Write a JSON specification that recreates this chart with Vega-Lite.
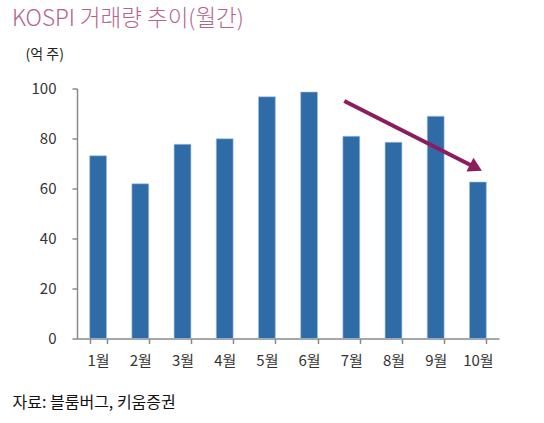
{
  "$schema": "https://vega.github.io/schema/vega-lite/v6.json",
  "width": 422,
  "height": 250,
  "autosize": {"type": "none"},
  "padding": {"left": 77, "top": 88.5, "right": 45, "bottom": 84.5},
  "background": "white",
  "config": {
    "view": {"stroke": null},
    "font": "Noto Sans CJK KR",
    "axis": {"domainColor": "#8a8a8a", "tickColor": "#8a8a8a", "domainWidth": 1.5, "tickWidth": 1.5, "labelColor": "#333333", "labelFont": "Noto Sans CJK KR", "labelFontSize": 15, "grid": false}
  },
  "title": {
    "text": "KOSPI 거래량 추이(월간)",
    "anchor": "start",
    "frame": "group",
    "dx": -65,
    "offset": -1,
    "baseline": "alphabetic",
    "font": "Noto Sans CJK KR",
    "fontWeight": 300,
    "fontSize": 22.5,
    "color": "#B3648C"
  },
  "layer": [
    {
      "data": {
        "values": [
          {"month": "1월", "volume": 73.1},
          {"month": "2월", "volume": 61.9},
          {"month": "3월", "volume": 77.7},
          {"month": "4월", "volume": 79.9},
          {"month": "5월", "volume": 96.7},
          {"month": "6월", "volume": 98.6},
          {"month": "7월", "volume": 80.9},
          {"month": "8월", "volume": 78.5},
          {"month": "9월", "volume": 88.9},
          {"month": "10월", "volume": 62.6}
        ]
      },
      "mark": {"type": "bar", "color": "#2F6BA7", "stroke": "#A9C4E2", "strokeWidth": 0.6},
      "encoding": {
        "x": {
          "field": "month",
          "type": "nominal",
          "sort": null,
          "scale": {"domain": ["1월", "2월", "3월", "4월", "5월", "6월", "7월", "8월", "9월", "10월"], "paddingInner": 0.6, "paddingOuter": 0.3},
          "axis": {
            "labelAngle": 0,
            "tickBand": "extent",
            "tickSize": 5,
            "labelPadding": 10,
            "title": "자료: 블룸버그, 키움증권",
            "titleX": -65,
            "titleY": 68.5,
            "titleAlign": "left",
            "titleBaseline": "alphabetic",
            "titleFont": "Noto Sans CJK KR",
            "titleFontSize": 16,
            "titleFontWeight": "normal",
            "titleColor": "#111111"
          }
        },
        "y": {
          "field": "volume",
          "type": "quantitative",
          "scale": {"domain": [0, 100]},
          "axis": {
            "values": [0, 20, 40, 60, 80, 100],
            "tickSize": 5,
            "labelPadding": 16,
            "title": "(억 주)",
            "titleAngle": 0,
            "titleX": -52,
            "titleY": -30,
            "titleAlign": "left",
            "titleBaseline": "alphabetic",
            "titleFont": "Noto Sans CJK KR",
            "titleFontSize": 14,
            "titleFontWeight": "normal",
            "titleColor": "#222222"
          }
        }
      }
    },
    {
      "data": {"values": [{"month": "7월", "month_end": "10월", "from": 95, "to": 68.3}]},
      "mark": {"type": "rule", "color": "#8C1C5E", "strokeWidth": 4, "xOffset": -7, "x2Offset": -2},
      "encoding": {
        "x": {"field": "month", "type": "nominal"},
        "x2": {"field": "month_end"},
        "y": {"field": "from", "type": "quantitative"},
        "y2": {"field": "to"}
      }
    },
    {
      "data": {"values": [{"month": "10월", "to": 68.3}]},
      "mark": {"type": "point", "shape": "triangle-right", "filled": true, "opacity": 1, "color": "#8C1C5E", "size": 240, "angle": 27, "xOffset": -2},
      "encoding": {
        "x": {"field": "month", "type": "nominal"},
        "y": {"field": "to", "type": "quantitative"}
      }
    }
  ]
}
